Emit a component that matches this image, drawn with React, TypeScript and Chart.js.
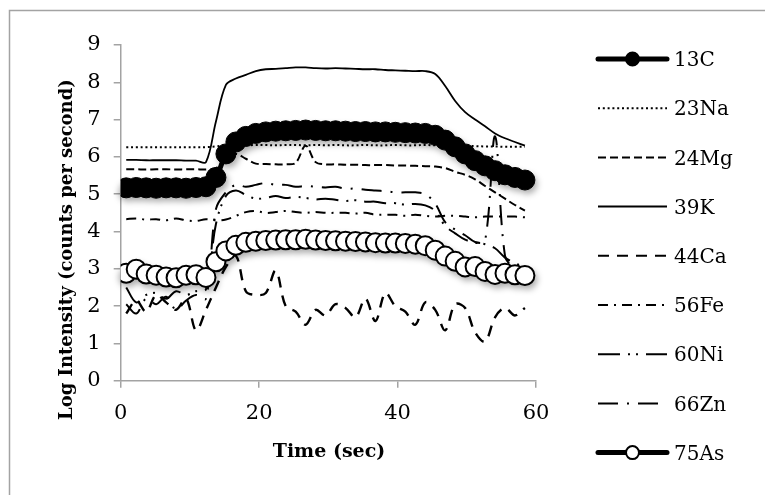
import React, { useEffect, useRef } from "react";
import { Chart, registerables } from "chart.js";

Chart.register(...registerables);

// Acquisition times (s)
const timeSec = [
  0.8, 2.24, 3.68, 5.12, 6.56, 8.0, 9.44, 10.88, 12.32, 13.76,
  15.2, 16.64, 18.08, 19.52, 20.96, 22.4, 23.84, 25.28, 26.72, 28.16,
  29.6, 31.04, 32.48, 33.92, 35.36, 36.8, 38.24, 39.68, 41.12, 42.56,
  44.0, 45.44, 46.88, 48.32, 49.76, 51.2, 52.64, 54.08, 55.52, 56.96, 58.4,
];

// Log intensity per isotope
const c13 = [
  5.17, 5.18, 5.17, 5.16, 5.17, 5.17, 5.16, 5.18, 5.2, 5.45,
  6.08, 6.4, 6.55, 6.63, 6.67, 6.69, 6.7, 6.71, 6.72, 6.71,
  6.7, 6.7, 6.69, 6.68, 6.68, 6.67, 6.67, 6.66, 6.65, 6.64,
  6.63, 6.58, 6.45, 6.27, 6.08, 5.9, 5.76, 5.63, 5.52, 5.45, 5.38,
];
const na23 = [
  6.26, 6.26, 6.26, 6.26, 6.26, 6.26, 6.26, 6.26, 6.26, 6.28,
  6.31, 6.32, 6.31, 6.32, 6.32, 6.31, 6.32, 6.32, 6.31, 6.32,
  6.31, 6.32, 6.31, 6.31, 6.32, 6.31, 6.31, 6.32, 6.31, 6.31,
  6.32, 6.31, 6.31, 6.31, 6.3, 6.29, 6.28, 6.28, 6.27, 6.27, 6.27,
];
const mg24 = [
  5.67, 5.67, 5.66, 5.67, 5.67, 5.66, 5.67, 5.67, 5.66, 5.7,
  5.95, 6.08, 5.95, 5.82, 5.81, 5.8, 5.8, 5.84, 6.3, 5.86,
  5.8, 5.8, 5.79, 5.79, 5.78, 5.78, 5.78, 5.77, 5.77, 5.76,
  5.75, 5.74, 5.7, 5.6, 5.52, 5.4, 5.22, 5.05, 4.88, 4.71, 4.56,
];
const k39 = [
  5.92, 5.92, 5.91, 5.91, 5.91, 5.91, 5.9, 5.9, 5.86, 6.95,
  7.93, 8.1, 8.2, 8.3, 8.35, 8.36, 8.38, 8.4, 8.4, 8.38,
  8.37, 8.38, 8.37, 8.36, 8.35, 8.35, 8.33, 8.32, 8.31, 8.3,
  8.3, 8.22, 7.9, 7.5, 7.2, 7.0, 6.82, 6.63, 6.5, 6.4, 6.3,
];
const ca44 = [
  1.8, 2.15, 1.85, 2.3, 2.1, 1.9, 2.2, 1.35, 1.9, 2.5,
  3.05, 3.35, 2.4, 2.3, 2.35, 2.95, 2.0, 1.85, 1.5, 1.9,
  1.75, 2.05, 1.95, 1.7, 2.2, 1.6, 2.35, 2.0, 1.85, 1.5,
  2.1, 1.9, 1.35, 2.05, 1.95, 1.3, 1.05, 1.7, 1.95, 1.75, 1.95,
];
const fe56 = [
  4.33, 4.35, 4.32, 4.33, 4.3, 4.35, 4.3, 4.28, 4.33, 4.3,
  4.32, 4.42, 4.52, 4.55, 4.5, 4.52, 4.55, 4.52, 4.5, 4.52,
  4.5, 4.5, 4.5, 4.48, 4.5, 4.45, 4.45, 4.45, 4.42, 4.45,
  4.42, 4.4, 4.42, 4.42, 4.4, 4.38, 4.4, 4.4, 4.4, 4.4, 4.38,
];
const ni60 = [
  2.5, 2.1, 2.3, 2.35, 2.2, 2.4, 2.3, 2.4, 2.45, 4.2,
  4.95, 5.1, 4.98, 4.88, 4.9, 4.95, 4.9, 4.93, 4.9, 4.86,
  4.88, 4.85, 4.82, 4.84, 4.8, 4.8, 4.76, 4.76, 4.72, 4.74,
  4.7, 4.55, 4.15, 3.95, 3.78, 3.7, 3.66, 3.55, 3.3, 3.15, 3.05,
];
const zn66 = [
  2.05, 1.8, 2.2, 2.05, 2.25, 1.9, 2.15, 2.3, 2.2, 4.6,
  5.05, 5.25, 5.2, 5.25, 5.3, 5.25, 5.25, 5.2, 5.22, 5.2,
  5.18, 5.2, 5.15, 5.15, 5.12, 5.1, 5.08, 5.05, 5.05, 5.05,
  5.0, 4.75, 4.25, 4.05, 3.9, 3.72, 3.75, 6.55, 3.35, 3.0, 2.95,
];
const as75 = [
  2.88, 2.99, 2.86, 2.83, 2.78, 2.76, 2.83, 2.84, 2.77, 3.19,
  3.48, 3.63, 3.71, 3.74, 3.76, 3.77, 3.78, 3.78, 3.79, 3.77,
  3.76, 3.75, 3.74, 3.73, 3.72, 3.7, 3.69, 3.69, 3.68, 3.66,
  3.62, 3.5, 3.34, 3.2, 3.05, 3.06, 2.93, 2.85, 2.88, 2.84, 2.82,
];

const seriesNames = ["13C", "23Na", "24Mg", "39K", "44Ca", "56Fe", "60Ni", "66Zn", "75As"];
const seriesValues = [c13, na23, mg24, k39, ca44, fe56, ni60, zn66, as75];

const xTickValues = [0, 20, 40, 60];
const yTickValues = [0, 1, 2, 3, 4, 5, 6, 7, 8, 9];

const xTitle = "Time (sec)";
const yTitle = "Log Intensity (counts per second)";

type SeriesStyle = { dash: number[]; width: number; marker?: "filled" | "open"; radius?: number };

const seriesStyles: SeriesStyle[] = [
  { dash: [], width: 5, marker: "filled", radius: 10 },
  { dash: [2, 2.8], width: 2 },
  { dash: [8, 4], width: 2 },
  { dash: [], width: 1.8 },
  { dash: [11, 8], width: 2.4 },
  { dash: [10, 6, 2, 6], width: 2 },
  { dash: [22, 8, 2, 6, 2, 8], width: 2 },
  { dash: [20, 9, 2, 9], width: 2 },
  { dash: [], width: 5, marker: "open", radius: 9.5 },
];

const SERIF = '"DejaVu Serif", "Liberation Serif", serif';
const AXIS_GRAY = "#a3a3a3";

// Soft drop shadow under the marker series
const markerShadow = {
  id: "markerShadow",
  beforeDatasetsDraw(chart: any) {
    const ctx = chart.ctx as CanvasRenderingContext2D;
    seriesStyles.forEach((st, i) => {
      if (!st.marker) return;
      const meta = chart.getDatasetMeta(i);
      ctx.save();
      ctx.filter = "blur(3px)";
      ctx.fillStyle = "rgba(0,0,0,0.32)";
      ctx.beginPath();
      meta.data.forEach((pt: any) => {
        ctx.moveTo(pt.x + 2.5 + 10, pt.y + 4);
        ctx.arc(pt.x + 2.5, pt.y + 4, 10, 0, Math.PI * 2);
      });
      ctx.fill();
      ctx.restore();
    });
  },
};

// Series key on the right, axis titles and outer frame
const decorations = {
  id: "decorations",
  afterDraw(chart: any) {
    const ctx = chart.ctx as CanvasRenderingContext2D;
    ctx.save();

    // frame
    ctx.strokeStyle = AXIS_GRAY;
    ctx.lineWidth = 1.5;
    ctx.beginPath();
    ctx.moveTo(9.5, 495);
    ctx.lineTo(9.5, 10.5);
    ctx.lineTo(765, 10.5);
    ctx.stroke();

    // key
    seriesNames.forEach((name, i) => {
      const st = seriesStyles[i];
      const y = 59 + i * 49.2;
      ctx.strokeStyle = "#000";
      ctx.lineWidth = st.marker ? 5 : 2;
      ctx.setLineDash(st.dash);
      ctx.lineCap = st.marker ? "round" : "butt";
      ctx.beginPath();
      ctx.moveTo(598, y);
      ctx.lineTo(667, y);
      ctx.stroke();
      ctx.setLineDash([]);
      if (st.marker) {
        ctx.beginPath();
        ctx.arc(632.5, y, 6.5, 0, Math.PI * 2);
        ctx.fillStyle = st.marker === "filled" ? "#000" : "#fff";
        ctx.fill();
        ctx.lineWidth = 2;
        ctx.stroke();
      }
      ctx.fillStyle = "#000";
      ctx.font = `20px ${SERIF}`;
      ctx.textAlign = "left";
      ctx.textBaseline = "middle";
      ctx.fillText(name, 674, y + 2);
    });

    // axis titles
    ctx.fillStyle = "#000";
    ctx.font = `bold 19px ${SERIF}`;
    ctx.textBaseline = "alphabetic";
    ctx.textAlign = "center";
    ctx.fillText(xTitle, 329, 457);

    ctx.font = `bold 18px ${SERIF}`;
    ctx.translate(72, 420);
    ctx.rotate(-Math.PI / 2);
    ctx.textAlign = "left";
    ctx.fillText(yTitle, 0, 0);

    ctx.restore();
  },
};

export default function App() {
  const canvasRef = useRef<HTMLCanvasElement | null>(null);

  useEffect(() => {
    const canvas = canvasRef.current;
    if (!canvas) return;

    const datasets = seriesNames.map((name, i) => {
      const st = seriesStyles[i];
      return {
        label: name,
        data: timeSec.map((t, j) => ({ x: t, y: seriesValues[i][j] })),
        borderColor: "#000",
        borderWidth: st.width,
        borderDash: st.dash,
        backgroundColor: st.marker === "open" ? "#fff" : "#000",
        pointRadius: st.radius ?? 0,
        pointBorderWidth: st.marker === "open" ? 2 : 1,
        pointBackgroundColor: st.marker === "open" ? "#fff" : "#000",
        pointBorderColor: "#000",
        tension: 0.35,
        fill: false,
        order: seriesNames.length - 1 - i,
      };
    });

    const chart = new Chart(canvas, {
      type: "line",
      data: { datasets },
      options: {
        animation: false,
        responsive: false,
        devicePixelRatio: 1,
        layout: { padding: { left: 10, top: 45, right: 229, bottom: 0 } },
        plugins: {
          legend: { display: false },
          tooltip: { enabled: false },
        },
        scales: {
          x: {
            type: "linear",
            min: 0,
            max: 60,
            afterBuildTicks: (scale: any) => {
              scale.ticks = xTickValues.map((v) => ({ value: v }));
            },
            ticks: {
              color: "#000",
              font: { family: SERIF, size: 21 },
              padding: 13,
              maxRotation: 0,
            },
            grid: { drawOnChartArea: false, drawTicks: true, tickLength: 7, color: AXIS_GRAY, lineWidth: 1.5 },
            border: { display: true, color: AXIS_GRAY, width: 1.5 },
            afterFit: (scale: any) => {
              scale.height = 114.3;
            },
          },
          y: {
            type: "linear",
            min: 0,
            max: 9,
            afterBuildTicks: (scale: any) => {
              scale.ticks = yTickValues.map((v) => ({ value: v }));
            },
            ticks: {
              color: "#000",
              font: { family: SERIF, size: 21 },
              padding: 13,
            },
            grid: { drawOnChartArea: false, drawTicks: true, tickLength: 7, color: AXIS_GRAY, lineWidth: 1.5 },
            border: { display: true, color: AXIS_GRAY, width: 1.5 },
            afterFit: (scale: any) => {
              scale.width = 110.7;
            },
          },
        },
      },
      plugins: [markerShadow, decorations],
    });

    return () => chart.destroy();
  }, []);

  return (
    <div style={{ position: "absolute", left: 0, top: 0, width: 765, height: 495, background: "#fff" }}>
      <canvas ref={canvasRef} width={765} height={495} style={{ display: "block" }} />
    </div>
  );
}
